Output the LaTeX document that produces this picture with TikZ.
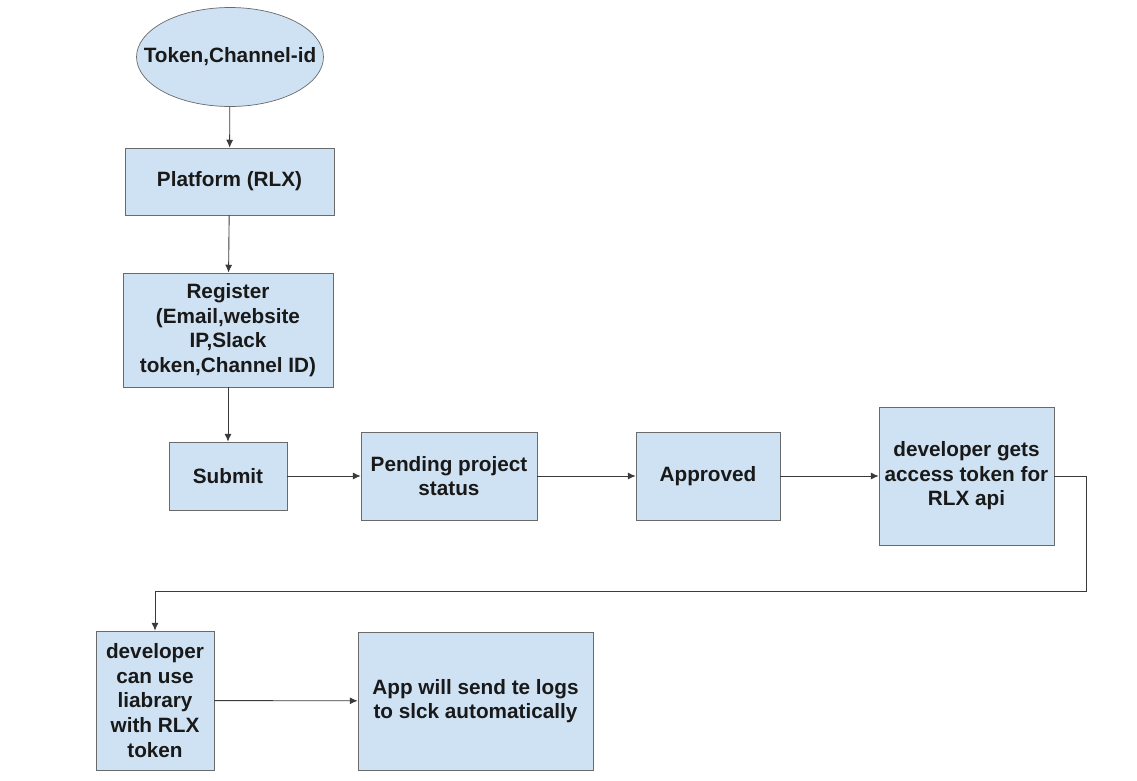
\documentclass[tikz,border=0pt]{standalone}
\usepackage{fontspec}
\setmainfont{Liberation Sans}
\usetikzlibrary{shapes.geometric, arrows.meta, positioning, calc}
\definecolor{boxfill}{HTML}{CFE2F3}
\definecolor{boxline}{HTML}{6A6A6A}
\definecolor{wire}{HTML}{3A3A3A}

\tikzset{
  flowbox/.style={draw=boxline, fill=boxfill, align=center, inner sep=0pt,
    text=black!90, font=\bfseries\fontsize{11.8}{14}\selectfont},
  flowarrow/.style={draw=wire, line width=0.5pt, -{Latex[length=4.5pt,width=4pt]}},
}

\begin{document}
\begin{tikzpicture}[x=0.02cm, y=-0.02cm]
          \useasboundingbox (0,0) rectangle (1137,781);

          \coordinate (S) at (230,57);
          \coordinate (P) at (229.5,181.5);
          \coordinate (R) at (228,330);
          \coordinate (U) at (228,476);
          \coordinate (N) at (449,476);
          \coordinate (A) at (708,476);
          \coordinate (T) at (966.5,476);
          \coordinate (L) at (155,700.5);
          \coordinate (G) at (475.5,701);

          \node[flowbox, ellipse, minimum width=3.74cm, minimum height=1.98cm] (start) at (S) {\makebox[0pt]{Token,Channel-id}};
          \node[flowbox, minimum width=4.18cm, minimum height=1.34cm] (platform) at (P) {Platform (RLX)};
          \node[flowbox, minimum width=4.2cm, minimum height=2.28cm] (register) at (R) {Register\\(Email,website\\IP,Slack\\token,Channel ID)};
          \node[flowbox, minimum width=2.36cm, minimum height=1.36cm] (submit) at (U) {Submit};
          \node[flowbox, minimum width=3.52cm, minimum height=1.76cm] (pending) at (N) {Pending project\\status};
          \node[flowbox, minimum width=2.88cm, minimum height=1.76cm] (approved) at (A) {Approved};
          \node[flowbox, minimum width=3.5cm, minimum height=2.76cm] (devtoken) at (T) {developer gets\\access token for\\RLX api};
          \node[flowbox, minimum width=2.36cm, minimum height=2.78cm] (devlib) at (L) {developer\\can use\\liabrary\\with RLX\\token};
          \node[flowbox, minimum width=4.7cm, minimum height=2.76cm] (applogs) at (G) {App will send te logs\\to slck automatically};

          \coordinate (turn) at (1086,591);

          \draw[flowarrow] (start) -- (platform);
          \draw[flowarrow] (platform) -- (register);
          \draw[flowarrow] (register) -- (submit);
          \draw[flowarrow] (submit) -- (pending);
          \draw[flowarrow] (pending) -- (approved);
          \draw[flowarrow] (approved) -- (devtoken);
          \draw[flowarrow] (devtoken.east) -| (turn) -| (devlib.north);
          \draw[flowarrow] (devlib) -- (applogs);
        \end{tikzpicture}
\end{document}
